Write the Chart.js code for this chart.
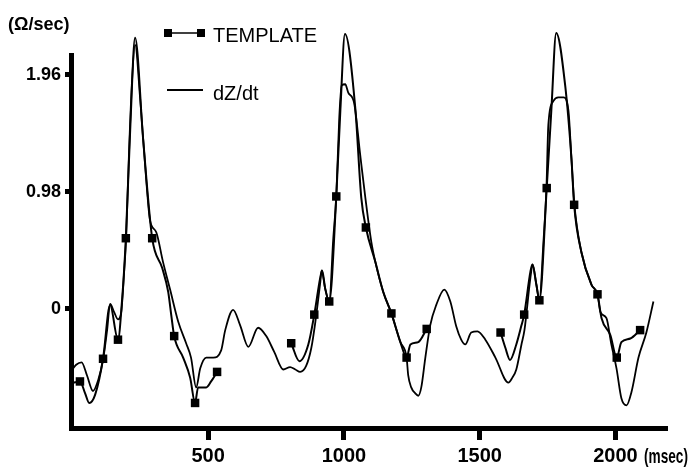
<!DOCTYPE html>
<html>
<head>
<meta charset="utf-8">
<title>dZ/dt and template</title>
<script src="https://cdn.jsdelivr.net/npm/chart.js@4/dist/chart.umd.min.js"></script>
<style>
  html, body { margin: 0; padding: 0; background: #fff; }
  canvas { display: block; }
</style>
</head>
<body>
<canvas id="myChart" width="690" height="468"></canvas>
<script>
const timeTicks = [500, 1000, 1500, 2000];
const valueTicks = [0, 0.98, 1.96];

// dZ/dt trace: time (msec) and value (ohm/sec)
const dzdtT = [0, 14, 34, 54, 76, 95, 113, 128, 139, 154, 168, 180, 191, 198, 209, 220, 231, 250, 272, 286,
  309, 334, 360, 390, 419, 437, 456, 471, 493, 519, 548, 563, 592, 618, 648, 684, 714, 743, 777, 802,
  821, 839, 861, 880, 895, 913, 918, 931, 946, 961, 972, 983, 992, 1005, 1016, 1038, 1060, 1079, 1101, 1116,
  1145, 1175, 1208, 1231, 1237, 1248, 1263, 1274, 1285, 1300, 1318, 1340, 1370, 1392, 1414, 1432, 1447, 1469, 1492, 1521,
  1558, 1606, 1620, 1635, 1654, 1665, 1687, 1695, 1709, 1720, 1735, 1746, 1753, 1772, 1790, 1809, 1827, 1838, 1849, 1875,
  1912, 1934, 1945, 1967, 1985, 2004, 2022, 2041, 2059, 2085, 2114, 2140];
const dzdtV = [-0.51, -0.47, -0.45, -0.56, -0.69, -0.60, -0.43, -0.18, 0.04, -0.03, -0.09, -0.03, 0.32, 0.59, 1.33, 1.92, 2.21, 1.75, 1.08, 0.74,
  0.64, 0.39, 0.16, -0.11, -0.29, -0.41, -0.66, -0.50, -0.41, -0.41, -0.35, -0.18, -0.01, -0.14, -0.32, -0.16, -0.23, -0.36, -0.51, -0.49,
  -0.51, -0.53, -0.48, -0.33, -0.11, 0.22, 0.32, 0.17, 0.06, 0.59, 0.94, 1.60, 1.87, 1.88, 1.81, 1.72, 1.29, 0.93, 0.56, 0.39,
  0.14, -0.04, -0.28, -0.41, -0.56, -0.66, -0.71, -0.73, -0.66, -0.41, -0.14, 0.03, 0.16, 0.06, -0.15, -0.26, -0.30, -0.20, -0.19, -0.26,
  -0.41, -0.62, -0.58, -0.51, -0.30, -0.18, 0.26, 0.37, 0.20, 0.07, 0.56, 1.01, 1.54, 1.74, 1.77, 1.77, 1.66, 1.26, 0.87, 0.47,
  0.20, 0.12, -0.03, -0.08, -0.30, -0.50, -0.75, -0.81, -0.70, -0.41, -0.20, 0.06];

// template trace, null breaks the line between beats
const templateT = [3, 28, 47, 62, 84, 113, 139, 168, 183, 197, 213, 231, 261, 294, 331, 353, 364, 375, 408, 434,
  452, 463, 493, 511, 533, 670, 806, 836, 869, 891, 913, 920, 931, 946, 972, 987, 1004, 1042, 1064, 1081,
  1116, 1145, 1175, 1208, 1231, 1245, 1274, 1305, 1440, 1577, 1595, 1612, 1635, 1654, 1664, 1687, 1694, 1709, 1720, 1747,
  1764, 1782, 1815, 1838, 1848, 1875, 1912, 1934, 1949, 1981, 2005, 2022, 2055, 2091];
const templateV = [-0.62, -0.61, -0.71, -0.79, -0.72, -0.42, 0.03, -0.26, 0.07, 0.59, 1.50, 2.27, 1.41, 0.59, 0.34, 0.14, -0.05, -0.23, -0.41, -0.58,
  -0.79, -0.66, -0.66, -0.61, -0.53, null, -0.29, -0.44, -0.30, -0.05, 0.26, 0.32, 0.17, 0.06, 0.94, 1.66, 2.30, 1.68, 0.93, 0.68,
  0.39, 0.14, -0.04, -0.28, -0.41, -0.30, -0.28, -0.17, null, -0.20, -0.33, -0.43, -0.30, -0.14, -0.05, 0.31, 0.37, 0.20, 0.07, 1.01,
  1.66, 2.31, 1.87, 1.26, 0.87, 0.47, 0.20, 0.12, -0.08, -0.22, -0.41, -0.28, -0.25, -0.18];

// template samples drawn as squares
const markT = [28, 113, 168, 197, 231, 294, 375, 452, 533, 806, 891, 946, 972, 1004, 1081, 1175, 1231, 1305,
  1577, 1664, 1720, 1747, 1782, 1848, 1934, 2005, 2091];
const markV = [-0.61, -0.42, -0.26, 0.59, 2.27, 0.59, -0.23, -0.79, -0.53, -0.29, -0.05, 0.06, 0.94, 2.30, 0.68, -0.04, -0.41, -0.17,
  -0.20, -0.05, 0.07, 1.01, 2.31, 0.87, 0.12, -0.41, -0.18];

const sans = "'Liberation Sans', Arial, sans-serif";

const toPoints = (ts, vs) => ts.map((t, i) => ({ x: t, y: vs[i] }));

// axis titles and the legend box inside the plot
const extras = {
  id: 'extras',
  afterDraw(chart) {
    const c = chart.ctx;
    c.save();
    c.fillStyle = '#000';
    c.strokeStyle = '#000';
    c.textBaseline = 'middle';
    c.textAlign = 'left';
    c.font = 'bold 19px ' + sans;
    c.save();
    c.translate(8, 25);
    c.scale(0.95, 1);
    c.fillText('(\u03A9/sec)', 0, 0);
    c.restore();
    c.font = 'bold 21px ' + sans;
    c.save();
    c.translate(644, 457);
    c.scale(0.65, 1);
    c.fillText('(msec)', 0, 0);
    c.restore();

    c.lineWidth = 1.5;
    c.beginPath(); c.moveTo(168, 33); c.lineTo(201, 33); c.stroke();
    c.fillRect(164, 29, 8, 8);
    c.fillRect(197, 29, 8, 8);
    c.lineWidth = 2;
    c.beginPath(); c.moveTo(167, 90); c.lineTo(203, 90); c.stroke();

    c.font = '20px ' + sans;
    c.fillText('TEMPLATE', 213, 36);
    c.fillText('dZ/dt', 213, 94);
    c.restore();
  }
};

const ctx = document.getElementById('myChart');

new Chart(ctx, {
  type: 'line',
  data: {
    datasets: [{
      label: 'dZ/dt',
      data: toPoints(dzdtT, dzdtV),
      borderColor: '#000',
      borderWidth: 1.8,
      pointRadius: 0,
      cubicInterpolationMode: 'monotone',
      clip: false
    }, {
      label: 'TEMPLATE',
      data: toPoints(templateT, templateV),
      borderColor: '#000',
      borderWidth: 2,
      pointRadius: 0,
      spanGaps: false,
      cubicInterpolationMode: 'monotone',
      clip: false
    }, {
      label: 'TEMPLATE points',
      data: toPoints(markT, markV),
      showLine: false,
      pointStyle: 'rect',
      pointRadius: 6,
      pointBackgroundColor: '#000',
      pointBorderColor: '#000',
      pointBorderWidth: 0,
      clip: false
    }]
  },
  options: {
    responsive: false,
    animation: false,
    events: [],
    layout: { padding: { top: 55, right: 23, left: 0, bottom: 0 } },
    plugins: {
      legend: { display: false },
      tooltip: { enabled: false }
    },
    scales: {
      x: {
        type: 'linear',
        min: -5,
        max: 2190,
        afterBuildTicks: (scale) => { scale.ticks = timeTicks.map(v => ({ value: v })); },
        afterFit: (scale) => { scale.height = 40; },
        grid: { display: true, drawOnChartArea: false, drawTicks: true, tickLength: 12, tickWidth: 5, tickColor: '#000' },
        border: { display: true, width: 5, color: '#000' },
        ticks: {
          color: '#000',
          padding: 4,
          maxRotation: 0,
          font: { family: sans, size: 20, weight: 'bold' },
          callback: (v) => String(v)
        }
      },
      y: {
        min: -1.0,
        max: 2.125,
        afterBuildTicks: (scale) => { scale.ticks = valueTicks.map(v => ({ value: v })); },
        afterFit: (scale) => { scale.width = 71; },
        grid: { display: true, drawOnChartArea: false, drawTicks: true, tickLength: 6, tickWidth: 5, tickColor: '#000' },
        border: { display: true, width: 5, color: '#000' },
        ticks: {
          color: '#000',
          padding: 4,
          font: { family: sans, size: 18, weight: 'bold' },
          callback: (v) => v === 0 ? '0' : v.toFixed(2)
        }
      }
    }
  },
  plugins: [extras]
});
</script>
</body>
</html>
